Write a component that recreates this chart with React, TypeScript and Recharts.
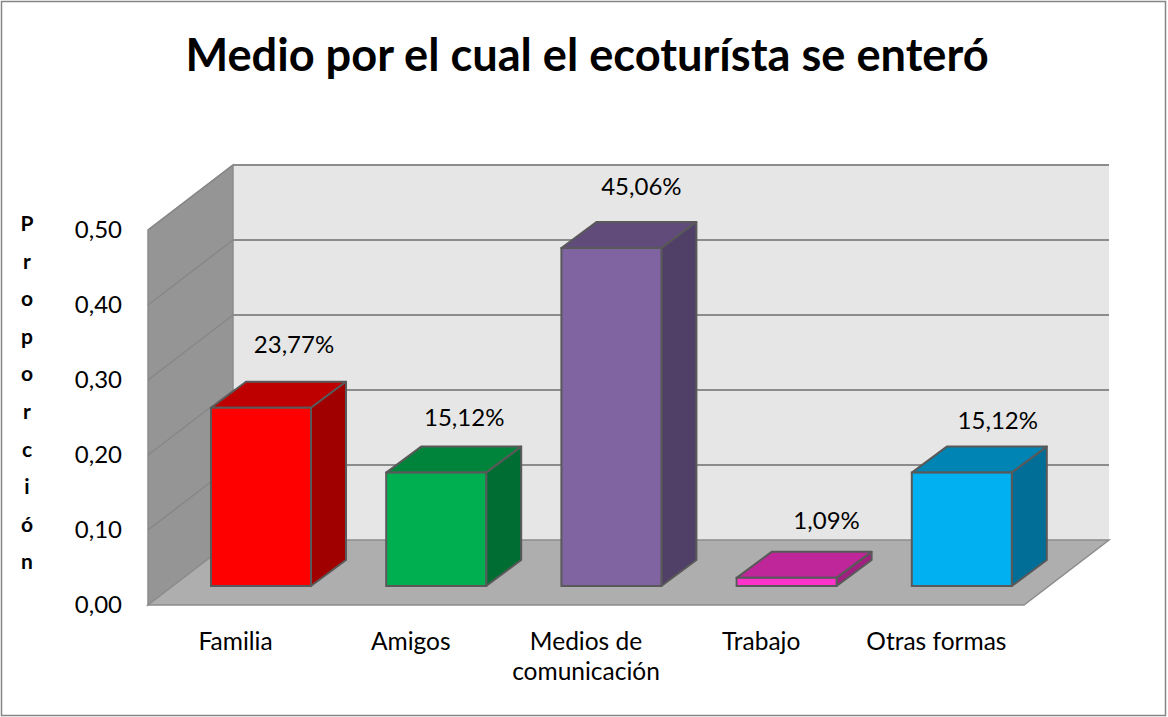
import React from 'react';
import { BarChart, Bar, XAxis, YAxis, ReferenceArea, Cell } from 'recharts';

const categories = ['Familia', 'Amigos', 'Medios de comunicación', 'Trabajo', 'Otras formas'];
const proportions = [0.2377, 0.1512, 0.4506, 0.0109, 0.1512];
const valueLabels = ['23,77%', '15,12%', '45,06%', '1,09%', '15,12%'];
const yTicks = [0, 0.1, 0.2, 0.3, 0.4, 0.5];
const yTitleLetters = ['P', 'r', 'o', 'p', 'o', 'r', 'c', 'i', 'ó', 'n'];
const frontColors = ['#FF0000', '#00B050', '#8064A2', '#FF33CC', '#00B0F0'];
const topColors = ['#BF0000', '#00843C', '#604B7A', '#BF2699', '#0084B4'];
const sideColors = ['#A00000', '#006E32', '#503F66', '#A02080', '#006E96'];
const labelNudges = [
  [33, -55],
  [28, -47],
  [30, -53],
  [40, -49],
  [36, -44],
];

const FONT = 'Lato, Carlito, Calibri, sans-serif';
const data = categories.map((name, i) => ({ name, value: proportions[i], label: valueLabels[i] }));

const WALL_DX = 85;
const WALL_DY = -65;
const BAR_DX = 25;
const BAR_DY = -19;
const BOX_DX = 35;
const BOX_DY = -26;
const EDGE = '#595959';
const GRID = '#8C8C8C';

const Walls = (p: any) => {
  const { x, y, width, height } = p;
  const b = y + height;
  const r = x + width;
  return (
    <g>
      <polygon points={`${x + WALL_DX},${y + WALL_DY} ${r + WALL_DX},${y + WALL_DY} ${r + WALL_DX},${b + WALL_DY} ${x + WALL_DX},${b + WALL_DY}`} fill="#E6E6E6" />
      <polygon points={`${x},${y} ${x + WALL_DX},${y + WALL_DY} ${x + WALL_DX},${b + WALL_DY} ${x},${b}`} fill="#959595" stroke={GRID} strokeWidth={1.5} />
      <polygon points={`${x},${b} ${x + WALL_DX},${b + WALL_DY} ${r + WALL_DX},${b + WALL_DY} ${r},${b}`} fill="#AEAEAE" stroke={GRID} strokeWidth={1.5} />
    </g>
  );
};

// Each grid band's top edge is one gridline: a diagonal on the side wall, then a line along the back wall.
const GridShape = (p: any) => {
  const { x, y, width } = p;
  return (
    <g fill="none">
      <line x1={x} y1={y} x2={x + WALL_DX} y2={y + WALL_DY} stroke="#878787" strokeWidth={1.5} />
      <line x1={x + WALL_DX} y1={y + WALL_DY} x2={x + width + WALL_DX} y2={y + WALL_DY} stroke={GRID} strokeWidth={2} />
    </g>
  );
};

const Box = (p: any) => {
  const { x, y, width, height, index } = p;
  const l = x + BAR_DX;
  const t = y + BAR_DY;
  const r = l + width;
  const b = t + height;
  const [nx, ny] = labelNudges[index];
  return (
    <g>
      <polygon
        points={`${l},${t} ${l + BOX_DX},${t + BOX_DY} ${r + BOX_DX},${t + BOX_DY} ${r},${t}`}
        fill={topColors[index]} stroke={EDGE} strokeWidth={2} strokeLinejoin="round"
      />
      <polygon
        points={`${r},${t} ${r + BOX_DX},${t + BOX_DY} ${r + BOX_DX},${b + BOX_DY} ${r},${b}`}
        fill={sideColors[index]} stroke={EDGE} strokeWidth={2} strokeLinejoin="round"
      />
      <rect x={l} y={t} width={width} height={height} fill={frontColors[index]} stroke={EDGE} strokeWidth={2} />
      <text x={l + width / 2 + nx} y={t + ny} textAnchor="middle" fontFamily={FONT} fontSize={24} fill="#000">
        {valueLabels[index]}
      </text>
    </g>
  );
};

const XTick = (p: any) => {
  const { x, payload } = p;
  const text: string = payload.value;
  const cut = text.lastIndexOf(' ');
  const lines = text.length > 14 ? [text.slice(0, cut), text.slice(cut + 1)] : [text];
  return (
    <text x={x} y={650} textAnchor="middle" fontFamily={FONT} fontSize={24.5} fill="#000">
      {lines.map((l, i) => (
        <tspan key={i} x={x} dy={i === 0 ? 0 : 30}>{l}</tspan>
      ))}
    </text>
  );
};

const YTick = (p: any) => {
  const { y, payload } = p;
  return (
    <text x={122} y={y + 8} textAnchor="end" fontFamily={FONT} fontSize={24} fill="#000">
      {payload.value.toFixed(2).replace('.', ',')}
    </text>
  );
};

export default function App() {
  return (
    <div style={{ position: 'absolute', left: 0, top: 0, width: 1168, height: 717, background: '#fff' }}>
      <svg width={1168} height={717} style={{ position: 'absolute', left: 0, top: 0 }}>
        <rect x={1.5} y={1.5} width={1164} height={714} fill="#fff" stroke="#868686" strokeWidth={1.5} />
        <text x={587} y={71} textAnchor="middle" fontFamily={FONT} fontWeight={700} fontSize={45.2} fill="#000">
          Medio por el cual el ecoturísta se enteró
        </text>
        <g fontFamily={FONT} fontWeight={700} fontSize={21} fill="#000" textAnchor="middle">
          {yTitleLetters.map((c, i) => (
            <text key={i} x={27} y={231 + i * 37.6}>{c}</text>
          ))}
        </g>
      </svg>
      <div style={{ position: 'absolute', left: 0, top: 0 }}>
        <BarChart
          width={1168}
          height={717}
          data={data}
          margin={{ top: 230, right: 144, bottom: 0, left: 0 }}
          barSize={100}
        >
          <XAxis dataKey="name" axisLine={false} tickLine={false} tick={<XTick />} interval={0} height={112} />
          <YAxis domain={[0, 0.5]} ticks={yTicks} axisLine={false} tickLine={false} tick={<YTick />} width={148} />
          <ReferenceArea y1={0} y2={0.5} shape={<Walls />} ifOverflow="visible" />
          {yTicks.slice(1).map((v, i) => (
            <ReferenceArea key={v} y1={yTicks[i]} y2={v} shape={<GridShape />} ifOverflow="visible" />
          ))}
          <Bar dataKey="value" isAnimationActive={false} shape={<Box />}>
            {data.map((_, i) => (
              <Cell key={i} fill={frontColors[i]} />
            ))}
          </Bar>
        </BarChart>
      </div>
    </div>
  );
}
